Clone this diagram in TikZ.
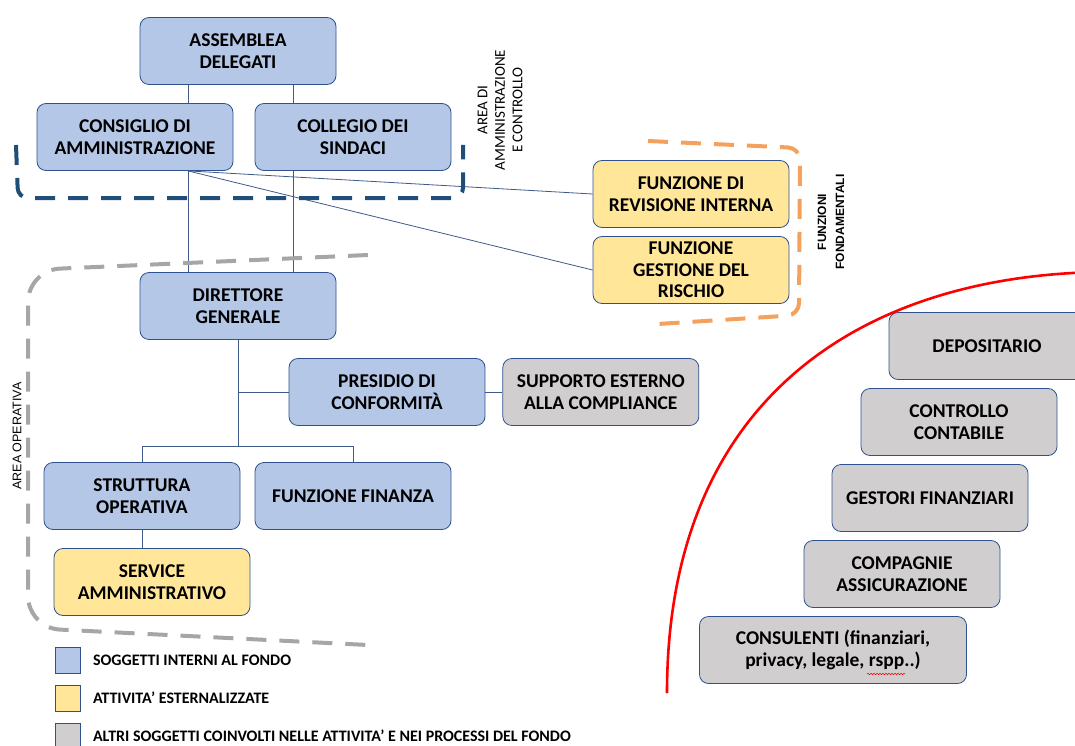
\documentclass[tikz,border=0pt]{standalone}
\usepackage{fontspec}
\setmainfont{Carlito}
\newfontfamily\labelfont{Liberation Sans}
\usetikzlibrary{positioning, decorations.pathmorphing}

\definecolor{boxblue}{HTML}{B4C7E7}
\definecolor{boxyellow}{HTML}{FFE699}
\definecolor{boxgray}{HTML}{D0CECE}
\definecolor{edgeblue}{HTML}{2F528F}
\definecolor{linkblue}{HTML}{3F5A88}
\definecolor{areablue}{HTML}{1F4E79}
\definecolor{areaorange}{HTML}{F4A15D}
\definecolor{areagray}{HTML}{A6A6A6}

\begin{document}
\begin{tikzpicture}[x=1pt, y=-1pt,
    unit/.style={rectangle, rounded corners=9pt, draw=edgeblue, line width=0.8pt, minimum width=196pt, minimum height=67pt, align=center, inner sep=2pt, font=\bfseries\fontsize{19.5}{21.5}\selectfont},
    inner/.style={unit, fill=boxblue},
    outsourced/.style={unit, fill=boxyellow},
    external/.style={unit, fill=boxgray},
    link/.style={draw=linkblue, line width=0.8pt},
    area/.style={line width=4pt, dash pattern=on 20pt off 13pt},
    arealabel/.style={rotate=90, align=center, inner sep=0pt},
    keybox/.style={rectangle, draw=edgeblue, line width=0.6pt, minimum width=25pt, minimum height=26pt, inner sep=0pt},
    keytext/.style={anchor=west, inner sep=0pt, font=\bfseries\fontsize{16}{18}\selectfont}
]
\useasboundingbox (0,0) rectangle (1075,746);

\node[inner] (assemblea) at (238,51) {ASSEMBLEA\\DELEGATI};
\node[inner] (consiglio) at (135,137) {CONSIGLIO DI\\AMMINISTRAZIONE};
\node[inner] (collegio) at (353,137) {COLLEGIO DEI\\SINDACI};
\node[outsourced] (revisione) at (691,194) {FUNZIONE DI\\REVISIONE INTERNA};
\node[outsourced] (rischio) at (691,270) {FUNZIONE\\GESTIONE DEL\\RISCHIO};
\node[inner] (direttore) at (238,306) {DIRETTORE\\GENERALE};
\node[inner] (presidio) at (387,392) {PRESIDIO DI\\CONFORMITÀ};
\node[external, right=17pt of presidio] (supporto) {SUPPORTO ESTERNO\\ALLA COMPLIANCE};
\node[inner] (struttura) at (142,496) {STRUTTURA\\OPERATIVA};
\node[inner] (finanza) at (353,496) {FUNZIONE FINANZA};
\node[outsourced] (service) at (152,582) {SERVICE\\AMMINISTRATIVO};

\node[external] (depositario) at (987,346) {DEPOSITARIO};
\node[external] (contabile) at (959,422) {CONTROLLO\\CONTABILE};
\node[external] (gestori) at (930,498) {GESTORI FINANZIARI};
\node[external] (compagnie) at (902,574) {COMPAGNIE\\ASSICURAZIONE};
\node[external, minimum width=267pt] (consulenti) at (833,650) {CONSULENTI (finanziari,\\privacy, legale, rspp..)};
\draw[red, line width=0.5pt, decorate, decoration={snake, amplitude=0.8pt, segment length=3pt}] (867,674) -- (905,674);

\coordinate (split) at (238,446);
\draw[link] ([xshift=-50pt]assemblea.south) -- ([xshift=-50pt]assemblea.south |- consiglio.north);
\draw[link] ([xshift=55pt]assemblea.south) -- ([xshift=55pt]assemblea.south |- collegio.north);
\draw[link] ([xshift=53pt]consiglio.south) -- ([xshift=-50pt]direttore.north);
\draw[link] ([xshift=-60pt]collegio.south) -- ([xshift=55pt]direttore.north);
\draw[link] ([xshift=53pt]consiglio.south) -- (revisione.west);
\draw[link] ([xshift=53pt]consiglio.south) -- (rischio.west);
\draw[link] (direttore.south) -- (split);
\draw[link] (direttore.south |- presidio.west) -- (presidio.west);
\draw[link] (presidio) -- (supporto);
\draw[link] (struttura.north) -- (struttura.north |- split) -- (finanza.north |- split) -- (finanza.north);
\draw[link] (struttura.south) -- (struttura.south |- service.north);

\draw[area, areablue, rounded corners=10pt] (16,145) -- (18,198) -- (463,198) -- (463,145);
\draw[area, areaorange, rounded corners=12pt] (648,141) -- (800,148) -- (799,315) -- (658,324);
\draw[area, areagray, rounded corners=32pt] (368,255) -- (28,270) -- (28,628) -- (368,645);
\draw[red, line width=2.6pt] (667,693) .. controls (667,400) and (860,276) .. (1100,272);

\node[arealabel, font=\fontsize{15}{17.5}\selectfont] (lblcontrollo) at (500,110) {AREA DI\\AMMINISTRAZIONE\\E CONTROLLO};
\node[arealabel, font=\labelfont\bfseries\fontsize{12}{18}\selectfont] (lblfondamentali) at (831,222) {FUNZIONI\\FONDAMENTALI};
\node[arealabel, font=\labelfont\fontsize{12.5}{15}\selectfont] (lbloperativa) at (17,436) {AREA OPERATIVA};

\node[keybox, fill=boxblue] (keyinner) at (68,660) {};
\node[keybox, fill=boxyellow] (keyout) at (68,698) {};
\node[keybox, fill=boxgray] (keyext) at (68,736) {};
\node[keytext, right=12pt of keyinner] (txtinner) {SOGGETTI INTERNI AL FONDO};
\node[keytext, right=12pt of keyout] (txtout) {ATTIVITA’ ESTERNALIZZATE};
\node[keytext, right=12pt of keyext] (txtext) {ALTRI SOGGETTI COINVOLTI NELLE ATTIVITA’ E NEI PROCESSI DEL FONDO};
\end{tikzpicture}
\end{document}
